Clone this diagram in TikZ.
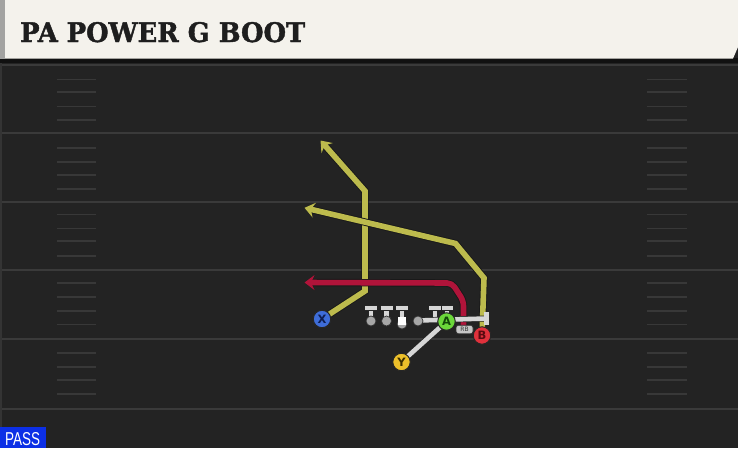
\documentclass[tikz,border=0pt]{standalone}
\usepackage{fontspec}
\usepackage{graphicx}
\usetikzlibrary{arrows.meta}
\newfontfamily\titlefont{DejaVu Serif}[BoldFeatures={FakeBold=1.6}]
\newfontfamily\uisans{Liberation Sans}
\newfontfamily\dvsans{DejaVu Sans}
\definecolor{field}{HTML}{232323}
\definecolor{fieldedge}{HTML}{343434}
\definecolor{yardcol}{HTML}{3A3A3A}
\definecolor{hashcol}{HTML}{383838}
\definecolor{headerbg}{HTML}{F4F2EC}
\definecolor{headerstrip}{HTML}{A3A3A1}
\definecolor{shadowcol}{HTML}{111111}
\definecolor{titlecol}{HTML}{1E1E1E}
\definecolor{passblue}{HTML}{0C2FE6}
\definecolor{routey}{HTML}{BDBB4D}
\definecolor{router}{HTML}{B0143A}
\definecolor{olgray}{HTML}{A6A6A6}
\definecolor{blkcol}{HTML}{D6D6D6}
\definecolor{xblue}{HTML}{3E6DD8}
\definecolor{xtext}{HTML}{0E1E50}
\definecolor{yyel}{HTML}{EDC02A}
\definecolor{ytext}{HTML}{3C2E00}
\definecolor{agreen}{HTML}{6BD83A}
\definecolor{atext}{HTML}{134A0A}
\definecolor{bred}{HTML}{E0313C}
\definecolor{btext}{HTML}{5A0A10}
\definecolor{rbgray}{HTML}{C6C6C6}
\tikzset{
  yard/.style={draw=yardcol, line width=2pt},
  hash/.style={draw=hashcol, line width=1.6pt},
  route/.style={line width=5.6pt, line join=miter,
    preaction={draw=black!90, line width=7.4pt}},
  yroute/.style={route, draw=routey, -{Stealth[length=10pt,width=15pt,inset=3.5pt]}},
  rroute/.style={route, draw=router, -{Stealth[length=10pt,width=15pt,inset=3.5pt]}},
  blk/.style={draw=blkcol, line width=4.6pt,
    preaction={draw=black!85, line width=6pt}},
  player/.style={circle, draw=black!85, line width=1pt, minimum size=17.5pt,
    inner sep=0pt, font=\dvsans\bfseries\fontsize{11.5}{11.5}\selectfont},
  rbtag/.style={rounded corners=2.5pt, fill=rbgray, draw=black!80, line width=0.7pt,
    minimum width=17pt, minimum height=8.5pt, inner sep=0pt,
    text=black!80, font=\dvsans\fontsize{6}{6}\selectfont},
  olman/.style={fill=olgray, draw=black!80, line width=0.7pt},
}
\begin{document}
\begin{tikzpicture}[x=1pt,y=-1pt]
\useasboundingbox (0,0) rectangle (738,448);
% field
\fill[field] (0,0) rectangle (738,448);
\fill[fieldedge] (0,59) rectangle (2,448);
\foreach \y in {65,133,201.5,270,338.5,408.5} \draw[yard] (2,\y) -- (738,\y);
\foreach \y in {79.3,92.2,106.5,120.2,147.7,162,174.8,188.7,214.3,228.6,241,255.7,282.7,297,311,324.3,352.7,366.7,380,394}{
  \draw[hash] (57,\y) -- (96,\y);
  \draw[hash] (647,\y) -- (687,\y);
}
% header
\fill[shadowcol] (0,58) rectangle (738,62.5);
\fill[headerbg] (0,0) -- (738,0) -- (738,47) -- (733,58.5) -- (0,58.5) -- cycle;
\fill[headerstrip] (0,0) rectangle (5,58.5);
\node[anchor=base west, inner sep=0pt, text=titlecol] (title) at (20,42)
  {\resizebox{285pt}{20pt}{\titlefont\bfseries PA POWER G BOOT}};
% pass tag
\fill[passblue] (0,427) rectangle (45.5,448);
\node[anchor=base west, inner sep=0pt, text=white] (pass) at (5,445)
  {\resizebox{35pt}{13pt}{\uisans PASS}};
% player positions
\coordinate (pX) at (322,319);
\coordinate (pY) at (401.5,362);
\coordinate (pA) at (446.5,321.5);
\coordinate (pB) at (482,335.5);
\coordinate (pRB) at (464.5,329.5);
% route ends
\coordinate (xend) at (320.5,140.5);
\coordinate (bend) at (304.5,207.8);
\coordinate (rend) at (304.5,282.5);
% routes
\draw[yroute] (pX) -- (365,291) -- (365,191) -- (xend);
\draw[yroute] (pB) -- (484,278) -- (455.5,243.5) -- (bend);
\draw[rroute, rounded corners=5pt] (463.5,326) -- (463.5,301) -- (452,283) -- (rend);
% offensive line
\foreach \c in {371,386.5,402}{
  \draw[blk] (\c,320) -- (\c,308);
  \draw[blk] (\c-6,308) -- (\c+6,308);
}
\fill[olman] (371,321) circle (5);
\fill[olman] (386.5,321) circle (5);
\fill[olman] (402,324) circle (5);
\fill[white] (397.6,316.5) rectangle (406.4,325);
\draw[blk] (435,320) -- (435,308);
\draw[blk] (429,308) -- (441,308);
\draw[blk] (447,320) -- (447,308);
\draw[blk] (441.5,308) -- (453,308);
\draw[blk] (418,320.5) -- (486.5,318.5);
\draw[blk] (486.5,312) -- (486.5,325);
\fill[olman] (418,321) circle (5);
\draw[blk] (pY) -- (pA);
% players
\node[rbtag] (RB) at (pRB) {RB};
\node[player, fill=xblue, text=xtext] (X) at (pX) {X};
\node[player, fill=yyel, text=ytext] (Y) at (pY) {Y};
\node[player, fill=agreen, text=atext] (A) at (pA) {A};
\node[player, fill=bred, text=btext] (B) at (pB) {B};
\end{tikzpicture}
\end{document}
